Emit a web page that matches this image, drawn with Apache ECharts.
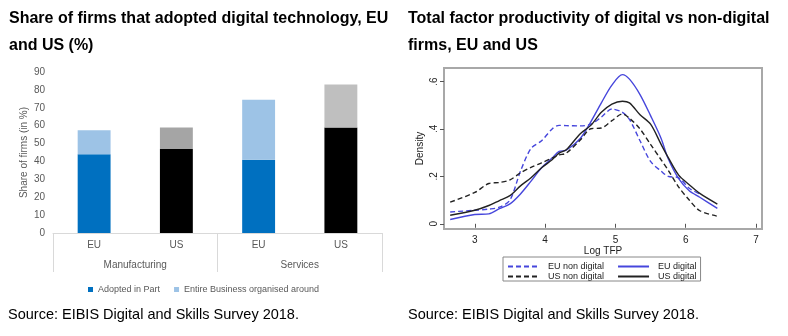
<!DOCTYPE html>
<html><head><meta charset="utf-8">
<script src="https://cdn.jsdelivr.net/npm/echarts@6/dist/echarts.min.js"></script>
<style>html,body{margin:0;padding:0;background:#fff}#c{width:788px;height:336px}</style>
</head><body><div id="c"></div>
<script>
// ---- Left chart data ----
const barCategories = ['EU', 'US', 'EU', 'US'];
const sectorGroups = ['Manufacturing', 'Services'];
const adoptedInPart = [44, 47, 41, 59];
const entireBusiness = [13.5, 12, 33.5, 24];
// ---- Right chart data ----
const logTFP =       [2.65, 3.0,  3.2,  3.35, 3.5,  3.65, 3.8,  3.95, 4.1,  4.2,  4.3,  4.5,  4.65, 4.8,  4.95, 5.1,  5.2,  5.35, 5.5,  5.65, 5.75, 5.9,  6.05, 6.2,  6.45];
const euNonDigital = [0.05, 0.057,0.062,0.07, 0.10, 0.222,0.318,0.35, 0.40, 0.415,0.414,0.413,0.42, 0.45, 0.484,0.47, 0.44, 0.35, 0.263,0.222,0.20, 0.194,0.15, 0.126,null];
const euDigital =    [0.018,0.039,0.042,0.064,0.084,0.126,0.18, 0.236,0.277,0.305,0.31, 0.36, 0.43, 0.51, 0.585,0.629,0.61, 0.545,0.456,0.36, 0.275,0.19, 0.139,0.112,0.065];
const usNonDigital = [0.091,0.132,0.17, 0.174,0.185,0.215,0.238,0.257,0.277,0.29, 0.298,0.353,0.401,0.404,0.435,0.463,0.445,0.40, 0.335,0.27, 0.226,0.155,0.10, 0.055,0.032];
const usDigital =    [0.036,0.057,0.077,0.098,0.119,0.16, 0.194,0.236,0.27, 0.298,0.312,0.38, 0.415,0.47, 0.505,0.517,0.51, 0.46, 0.42, 0.335,0.28, 0.205,0.165,0.128,0.083];

// ---- Styles ----
const partColors = ['#0070C0', '#000000', '#0070C0', '#000000'];
const entireColors = ['#9DC3E6', '#A5A5A5', '#9DC3E6', '#BFBFBF'];
const BLUE = '#4646dc';
const TFONT = "'Liberation Sans', Arial, sans-serif";
const XFONT = "'Liberation Sans', Arial, sans-serif";
const SFONT = "'Liberation Sans', Arial, sans-serif";

const pair = arr => logTFP.map((x, i) => [x, arr[i]]).filter(p => p[1] !== null);

const lineLegendBase = {
  itemWidth: 31, itemHeight: 8, itemGap: 13,
  itemStyle: {opacity: 0},
  textStyle: {fontFamily: SFONT, fontSize: 9, color: '#222', padding: [0, 0, 0, 4]}
};

const chart = echarts.init(document.getElementById('c'), null, {renderer: 'canvas'});
chart.setOption({
  animation: false,
  backgroundColor: '#fff',
  title: [
    {text: 'Share of firms that adopted digital technology, EU\nand US (%)', left: 4, top: 0,
     textStyle: {fontFamily: TFONT, fontWeight: 'bold', fontSize: 16, lineHeight: 27, color: '#000'}},
    {text: 'Total factor productivity of digital vs non-digital\nfirms, EU and US', left: 403, top: 0,
     textStyle: {fontFamily: TFONT, fontWeight: 'bold', fontSize: 16, lineHeight: 27, color: '#000'}},
    {text: 'Source: EIBIS Digital and Skills Survey 2018.', left: 3, top: 302,
     textStyle: {fontFamily: TFONT, fontWeight: 'normal', fontSize: 14.5, color: '#000'}},
    {text: 'Source: EIBIS Digital and Skills Survey 2018.', left: 403, top: 302,
     textStyle: {fontFamily: TFONT, fontWeight: 'normal', fontSize: 14.5, color: '#000'}}
  ],
  legend: [
    {data: ['Adopted in Part', 'Entire Business organised around'], left: 83, top: 280,
     icon: 'rect', itemWidth: 5, itemHeight: 5, itemGap: 14,
     textStyle: {fontFamily: XFONT, fontSize: 9, color: '#595959'}},
    Object.assign({data: ['EU non digital', 'EU digital'], left: 503, top: 257,
      padding: [5, 4, 10, 4], borderColor: '#888', borderWidth: 1}, lineLegendBase),
    Object.assign({data: ['US non digital', 'US digital'], left: 503, top: 270,
      padding: [2, 4, 2, 4]}, lineLegendBase)
  ],
  grid: [
    {left: 53, top: 72, width: 329, height: 161, containLabel: false},
    {left: 444, top: 68, width: 318, height: 161, containLabel: false, show: true,
     borderColor: '#a8a8a8', borderWidth: 2, backgroundColor: 'transparent'}
  ],
  xAxis: [
    {type: 'category', gridIndex: 0, data: barCategories,
     axisLine: {show: true, lineStyle: {color: '#d9d9d9', width: 1}},
     axisTick: {show: false},
     axisLabel: {margin: 7, fontFamily: XFONT, fontSize: 10, color: '#595959'}},
    {type: 'category', gridIndex: 0, data: sectorGroups, position: 'bottom',
     axisLine: {show: false},
     axisTick: {show: true, length: 39, alignWithLabel: false, lineStyle: {color: '#d9d9d9'}},
     axisLabel: {margin: 27, fontFamily: XFONT, fontSize: 10, color: '#595959'}},
    {type: 'value', gridIndex: 1, min: 2.562, max: 7.085, splitNumber: 5,
     axisLine: {show: false},
     axisTick: {show: true, length: 4, lineStyle: {color: '#555'}},
     splitLine: {show: false},
     axisLabel: {margin: 6, fontFamily: SFONT, fontSize: 10, color: '#222',
       showMinLabel: false, showMaxLabel: false,
       formatter: v => (Math.abs(v - Math.round(v)) < 1e-6 ? String(Math.round(v)) : '')},
     name: 'Log TFP', nameLocation: 'middle', nameGap: 14,
     nameTextStyle: {fontFamily: SFONT, fontSize: 10, color: '#222'}}
  ],
  yAxis: [
    {type: 'value', gridIndex: 0, min: 0, max: 90, interval: 10,
     axisLine: {show: false}, axisTick: {show: false}, splitLine: {show: false},
     axisLabel: {margin: 8, fontFamily: XFONT, fontSize: 10, color: '#595959'},
     name: 'Share of firms (in %)', nameLocation: 'middle', nameGap: 24, nameMoveOverlap: false,
     nameTextStyle: {fontFamily: XFONT, fontSize: 10, color: '#595959'}},
    {type: 'value', gridIndex: 1, min: -0.022, max: 0.657, splitNumber: 3,
     axisLine: {show: false},
     axisTick: {show: true, length: 4, lineStyle: {color: '#555'}},
     splitLine: {show: false},
     axisLabel: {margin: 5, rotate: 90, fontFamily: SFONT, fontSize: 10, color: '#222',
       showMinLabel: false, showMaxLabel: false,
       formatter: v => {
         const r = Math.round(v * 10) / 10;
         if (Math.abs(v - r) > 1e-6 || Math.round(r * 10) % 2 !== 0 || r < 0) return '';
         return r === 0 ? '0' : String(r).replace(/^0/, '');
       }},
     name: 'Density', nameLocation: 'middle', nameGap: 19,
     nameTextStyle: {fontFamily: SFONT, fontSize: 10, color: '#222'}}
  ],
  series: [
    {name: 'Adopted in Part', type: 'bar', stack: 'a', xAxisIndex: 0, yAxisIndex: 0,
     barWidth: '40%', itemStyle: {color: '#0070C0'},
     data: adoptedInPart.map((v, i) => ({value: v, itemStyle: {color: partColors[i]}}))},
    {name: 'Entire Business organised around', type: 'bar', stack: 'a', xAxisIndex: 0, yAxisIndex: 0,
     barWidth: '40%', itemStyle: {color: '#9DC3E6'},
     data: entireBusiness.map((v, i) => ({value: v, itemStyle: {color: entireColors[i]}}))},
    {name: 'EU non digital', type: 'line', xAxisIndex: 2, yAxisIndex: 1, symbol: 'none', smooth: 0.3,
     itemStyle: {color: BLUE}, lineStyle: {color: BLUE, width: 1.4, type: [5, 3]}, data: pair(euNonDigital)},
    {name: 'EU digital', type: 'line', xAxisIndex: 2, yAxisIndex: 1, symbol: 'none', smooth: 0.3,
     itemStyle: {color: BLUE}, lineStyle: {color: BLUE, width: 1.4}, data: pair(euDigital)},
    {name: 'US non digital', type: 'line', xAxisIndex: 2, yAxisIndex: 1, symbol: 'none', smooth: 0.3,
     itemStyle: {color: '#222'}, lineStyle: {color: '#222', width: 1.4, type: [5, 3]}, data: pair(usNonDigital)},
    {name: 'US digital', type: 'line', xAxisIndex: 2, yAxisIndex: 1, symbol: 'none', smooth: 0.3,
     itemStyle: {color: '#222'}, lineStyle: {color: '#222', width: 1.4}, data: pair(usDigital)}
  ]
});
</script>
</body></html>
